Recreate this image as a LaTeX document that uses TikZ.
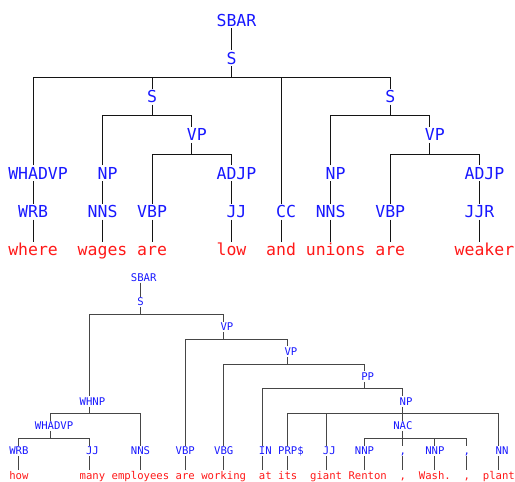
\documentclass[tikz,border=0pt]{standalone}
\usepackage{fontspec}
\newfontfamily\dmono{DejaVu Sans Mono}
\definecolor{lblue}{RGB}{24,24,255}
\definecolor{lred}{RGB}{255,24,24}
\definecolor{lineA}{RGB}{20,20,20}
\definecolor{lineB}{RGB}{70,70,70}
\newcommand\ev[1]{\phantom{X}#1}
% top tree grid
\newcommand\TX[1]{13.26+9.92*#1}
\newcommand\TB[1]{26+38.33*#1}
\newcommand\TR[1]{20+38.33*#1}
% bottom tree grid
\newcommand\BX[1]{12.5+6.4*#1}
\newcommand\BB[1]{281.2+24.79*#1}
\newcommand\BR[1]{277.3+24.79*#1}
\begin{document}
\begin{tikzpicture}[x=1pt,y=-1pt,
  tl/.style={font=\dmono\fontsize{16.5}{18}\selectfont, text=lblue, anchor=base,
    text height=12pt, text depth=0pt, inner xsep=0pt, inner ysep=1.8pt},
  tw/.style={tl, text=lred},
  bl/.style={font=\dmono\fontsize{10.63}{12}\selectfont, text=lblue, anchor=base,
    text height=7.8pt, text depth=0pt, inner xsep=0pt, inner ysep=1.2pt},
  bw/.style={bl, text=lred},
  ta/.style={draw=lineA, line width=1.15pt},
  tb/.style={draw=lineB, line width=0.95pt}]
\useasboundingbox (0,0) rectangle (515,482);

% ================= top tree =================
\node[tl] (tsbar)   at ({\TX{22}},{\TB{0}}) {\ev{SBAR}};
\node[tl] (ts0)     at ({\TX{22}},{\TB{1}}) {S};
\node[tl] (ts1)     at ({\TX{14}},{\TB{2}}) {S};
\node[tl] (ts2)     at ({\TX{38}},{\TB{2}}) {S};
\node[tl] (tvp1)    at ({\TX{18}},{\TB{3}}) {\ev{VP}};
\node[tl] (tvp2)    at ({\TX{42}},{\TB{3}}) {\ev{VP}};
\node[tl] (twhadvp) at ({\TX{2}},{\TB{4}})  {\ev{WHADVP}};
\node[tl] (tnp1)    at ({\TX{9}},{\TB{4}})  {\ev{NP}};
\node[tl] (tadjp1)  at ({\TX{22}},{\TB{4}}) {\ev{ADJP}};
\node[tl] (tnp2)    at ({\TX{32}},{\TB{4}}) {\ev{NP}};
\node[tl] (tadjp2)  at ({\TX{47}},{\TB{4}}) {\ev{ADJP}};
\node[tl] (twrb)    at ({\TX{2}},{\TB{5}})  {WRB};
\node[tl] (tnns1)   at ({\TX{9}},{\TB{5}})  {NNS};
\node[tl] (tvbp1)   at ({\TX{14}},{\TB{5}}) {VBP};
\node[tl] (tjj1)    at ({\TX{22}},{\TB{5}}) {\ev{JJ}};
\node[tl] (tcc)     at ({\TX{27}},{\TB{5}}) {\ev{CC}};
\node[tl] (tnns2)   at ({\TX{32}},{\TB{5}}) {NNS};
\node[tl] (tvbp2)   at ({\TX{38}},{\TB{5}}) {VBP};
\node[tl] (tjjr)    at ({\TX{47}},{\TB{5}}) {JJR};
\node[tw] (tw1) at ({\TX{2}},{\TB{6}})  {where};
\node[tw] (tw2) at ({\TX{9}},{\TB{6}})  {wages};
\node[tw] (tw3) at ({\TX{14}},{\TB{6}}) {are};
\node[tw] (tw4) at ({\TX{22}},{\TB{6}}) {low};
\node[tw] (tw5) at ({\TX{27}},{\TB{6}}) {and};
\node[tw] (tw6) at ({\TX{32}},{\TB{6}}) {\ev{unions}};
\node[tw] (tw7) at ({\TX{38}},{\TB{6}}) {are};
\node[tw] (tw8) at ({\TX{47}},{\TB{6}}) {\ev{weaker}};

\coordinate (tb0) at ({\TX{22}},{\TR{1.5}});
\coordinate (tb1) at ({\TX{14}},{\TR{2.5}});
\coordinate (tb2) at ({\TX{18}},{\TR{3.5}});
\coordinate (tb3) at ({\TX{38}},{\TR{2.5}});
\coordinate (tb4) at ({\TX{42}},{\TR{3.5}});

\path[ta] (tsbar.south) -- (ts0.north);
\path[ta] (ts0.south) -- (tb0);
\path[ta] (twhadvp.north) |- (tb0) -| (ts2.north);
\path[ta] (ts1.north) -- (ts1.north |- tb0);
\path[ta] (tcc.north) -- (tcc.north |- tb0);
\path[ta] (ts1.south) -- (tb1);
\path[ta] (tnp1.north) |- (tb1) -| (tvp1.north);
\path[ta] (tvp1.south) -- (tb2);
\path[ta] (tvbp1.north) |- (tb2) -| (tadjp1.north);
\path[ta] (ts2.south) -- (tb3);
\path[ta] (tnp2.north) |- (tb3) -| (tvp2.north);
\path[ta] (tvp2.south) -- (tb4);
\path[ta] (tvbp2.north) |- (tb4) -| (tadjp2.north);
\path[ta] (twhadvp.south) -- (twrb.north);
\path[ta] (tnp1.south) -- (tnns1.north);
\path[ta] (tadjp1.south) -- (tjj1.north);
\path[ta] (tnp2.south) -- (tnns2.north);
\path[ta] (tadjp2.south) -- (tjjr.north);
\path[ta] (twrb.south) -- (tw1.north);
\path[ta] (tnns1.south) -- (tw2.north);
\path[ta] (tvbp1.south) -- (tw3.north);
\path[ta] (tjj1.south) -- (tw4.north);
\path[ta] (tcc.south) -- (tw5.north);
\path[ta] (tnns2.south) -- (tw6.north);
\path[ta] (tvbp2.south) -- (tw7.north);
\path[ta] (tjjr.south) -- (tw8.north);

% ================= bottom tree =================
\node[bl] (bsbar)   at ({\BX{20}},{\BB{0}}) {\ev{SBAR}};
\node[bl] (bs)      at ({\BX{20}},{\BB{1}}) {S};
\node[bl] (bvpa)    at ({\BX{33}},{\BB{2}}) {\ev{VP}};
\node[bl] (bvpb)    at ({\BX{43}},{\BB{3}}) {\ev{VP}};
\node[bl] (bpp)     at ({\BX{55}},{\BB{4}}) {\ev{PP}};
\node[bl] (bwhnp)   at ({\BX{12}},{\BB{5}}) {\ev{WHNP}};
\node[bl] (bnp)     at ({\BX{61}},{\BB{5}}) {\ev{NP}};
\node[bl] (bwhadvp) at ({\BX{6}},{\BB{6}})  {\ev{WHADVP}};
\node[bl] (bnac)    at ({\BX{61}},{\BB{6}}) {NAC};
\node[bl] (bwrb)    at ({\BX{1}},{\BB{7}})  {WRB};
\node[bl] (bjj1)    at ({\BX{12}},{\BB{7}}) {\ev{JJ}};
\node[bl] (bnns)    at ({\BX{20}},{\BB{7}}) {NNS};
\node[bl] (bvbp)    at ({\BX{27}},{\BB{7}}) {VBP};
\node[bl] (bvbg)    at ({\BX{33}},{\BB{7}}) {VBG};
\node[bl] (bin)     at ({\BX{39}},{\BB{7}}) {\ev{IN}};
\node[bl] (bprp)    at ({\BX{43}},{\BB{7}}) {\ev{PRP\$}};
\node[bl] (bjj2)    at ({\BX{49}},{\BB{7}}) {\ev{JJ}};
\node[bl] (bnnp1)   at ({\BX{55}},{\BB{7}}) {NNP};
\node[bl] (bc1)     at ({\BX{61}},{\BB{7}}) {,};
\node[bl] (bnnp2)   at ({\BX{66}},{\BB{7}}) {NNP};
\node[bl] (bc2)     at ({\BX{71}},{\BB{7}}) {,};
\node[bl] (bnn)     at ({\BX{76}},{\BB{7}}) {\ev{NN}};
\node[bw] (bw1)  at ({\BX{1}},{\BB{8}})  {how};
\node[bw] (bw2)  at ({\BX{12}},{\BB{8}}) {\ev{many}};
\node[bw] (bw3)  at ({\BX{20}},{\BB{8}}) {employees};
\node[bw] (bw4)  at ({\BX{27}},{\BB{8}}) {are};
\node[bw] (bw5)  at ({\BX{33}},{\BB{8}}) {working};
\node[bw] (bw6)  at ({\BX{39}},{\BB{8}}) {\ev{at}};
\node[bw] (bw7)  at ({\BX{43}},{\BB{8}}) {its};
\node[bw] (bw8)  at ({\BX{49}},{\BB{8}}) {giant};
\node[bw] (bw9)  at ({\BX{55}},{\BB{8}}) {\ev{Renton}};
\node[bw] (bw10) at ({\BX{61}},{\BB{8}}) {,};
\node[bw] (bw11) at ({\BX{66}},{\BB{8}}) {Wash.};
\node[bw] (bw12) at ({\BX{71}},{\BB{8}}) {,};
\node[bw] (bw13) at ({\BX{76}},{\BB{8}}) {plant};

\coordinate (bbs)   at ({\BX{20}},{\BR{1.5}});
\coordinate (bbva)  at ({\BX{33}},{\BR{2.5}});
\coordinate (bbvb)  at ({\BX{43}},{\BR{3.5}});
\coordinate (bbpp)  at ({\BX{55}},{\BR{4.5}});
\coordinate (bbwh)  at ({\BX{12}},{\BR{5.5}});
\coordinate (bbnp)  at ({\BX{61}},{\BR{5.5}});
\coordinate (bbwa)  at ({\BX{6}},{\BR{6.5}});
\coordinate (bbnac) at ({\BX{61}},{\BR{6.5}});

\path[tb] (bsbar.south) -- (bs.north);
\path[tb] (bs.south) -- (bbs);
\path[tb] (bwhnp.north) |- (bbs) -| (bvpa.north);
\path[tb] (bvpa.south) -- (bbva);
\path[tb] (bvbp.north) |- (bbva) -| (bvpb.north);
\path[tb] (bvpb.south) -- (bbvb);
\path[tb] (bvbg.north) |- (bbvb) -| (bpp.north);
\path[tb] (bpp.south) -- (bbpp);
\path[tb] (bin.north) |- (bbpp) -| (bnp.north);
\path[tb] (bnp.south) -- (bbnp);
\path[tb] (bprp.north) |- (bbnp) -| (bnn.north);
\path[tb] (bjj2.north) -- (bjj2.north |- bbnp);
\path[tb] (bnac.north) -- (bbnp);
\path[tb] (bwhnp.south) -- (bbwh);
\path[tb] (bwhadvp.north) |- (bbwh) -| (bnns.north);
\path[tb] (bwhadvp.south) -- (bbwa);
\path[tb] (bwrb.north) |- (bbwa) -| (bjj1.north);
\path[tb] (bnac.south) -- (bbnac);
\path[tb] (bnnp1.north) |- (bbnac) -| (bc2.north);
\path[tb] (bc1.north) -- (bbnac);
\path[tb] (bnnp2.north) -- (bnnp2.north |- bbnac);
\path[tb] (bwrb.south) -- (bw1.north);
\path[tb] (bjj1.south) -- (bw2.north);
\path[tb] (bnns.south) -- (bw3.north);
\path[tb] (bvbp.south) -- (bw4.north);
\path[tb] (bvbg.south) -- (bw5.north);
\path[tb] (bin.south) -- (bw6.north);
\path[tb] (bprp.south) -- (bw7.north);
\path[tb] (bjj2.south) -- (bw8.north);
\path[tb] (bnnp1.south) -- (bw9.north);
\path[tb] (bc1.south) -- (bw10.north);
\path[tb] (bnnp2.south) -- (bw11.north);
\path[tb] (bc2.south) -- (bw12.north);
\path[tb] (bnn.south) -- (bw13.north);
\end{tikzpicture}
\end{document}
